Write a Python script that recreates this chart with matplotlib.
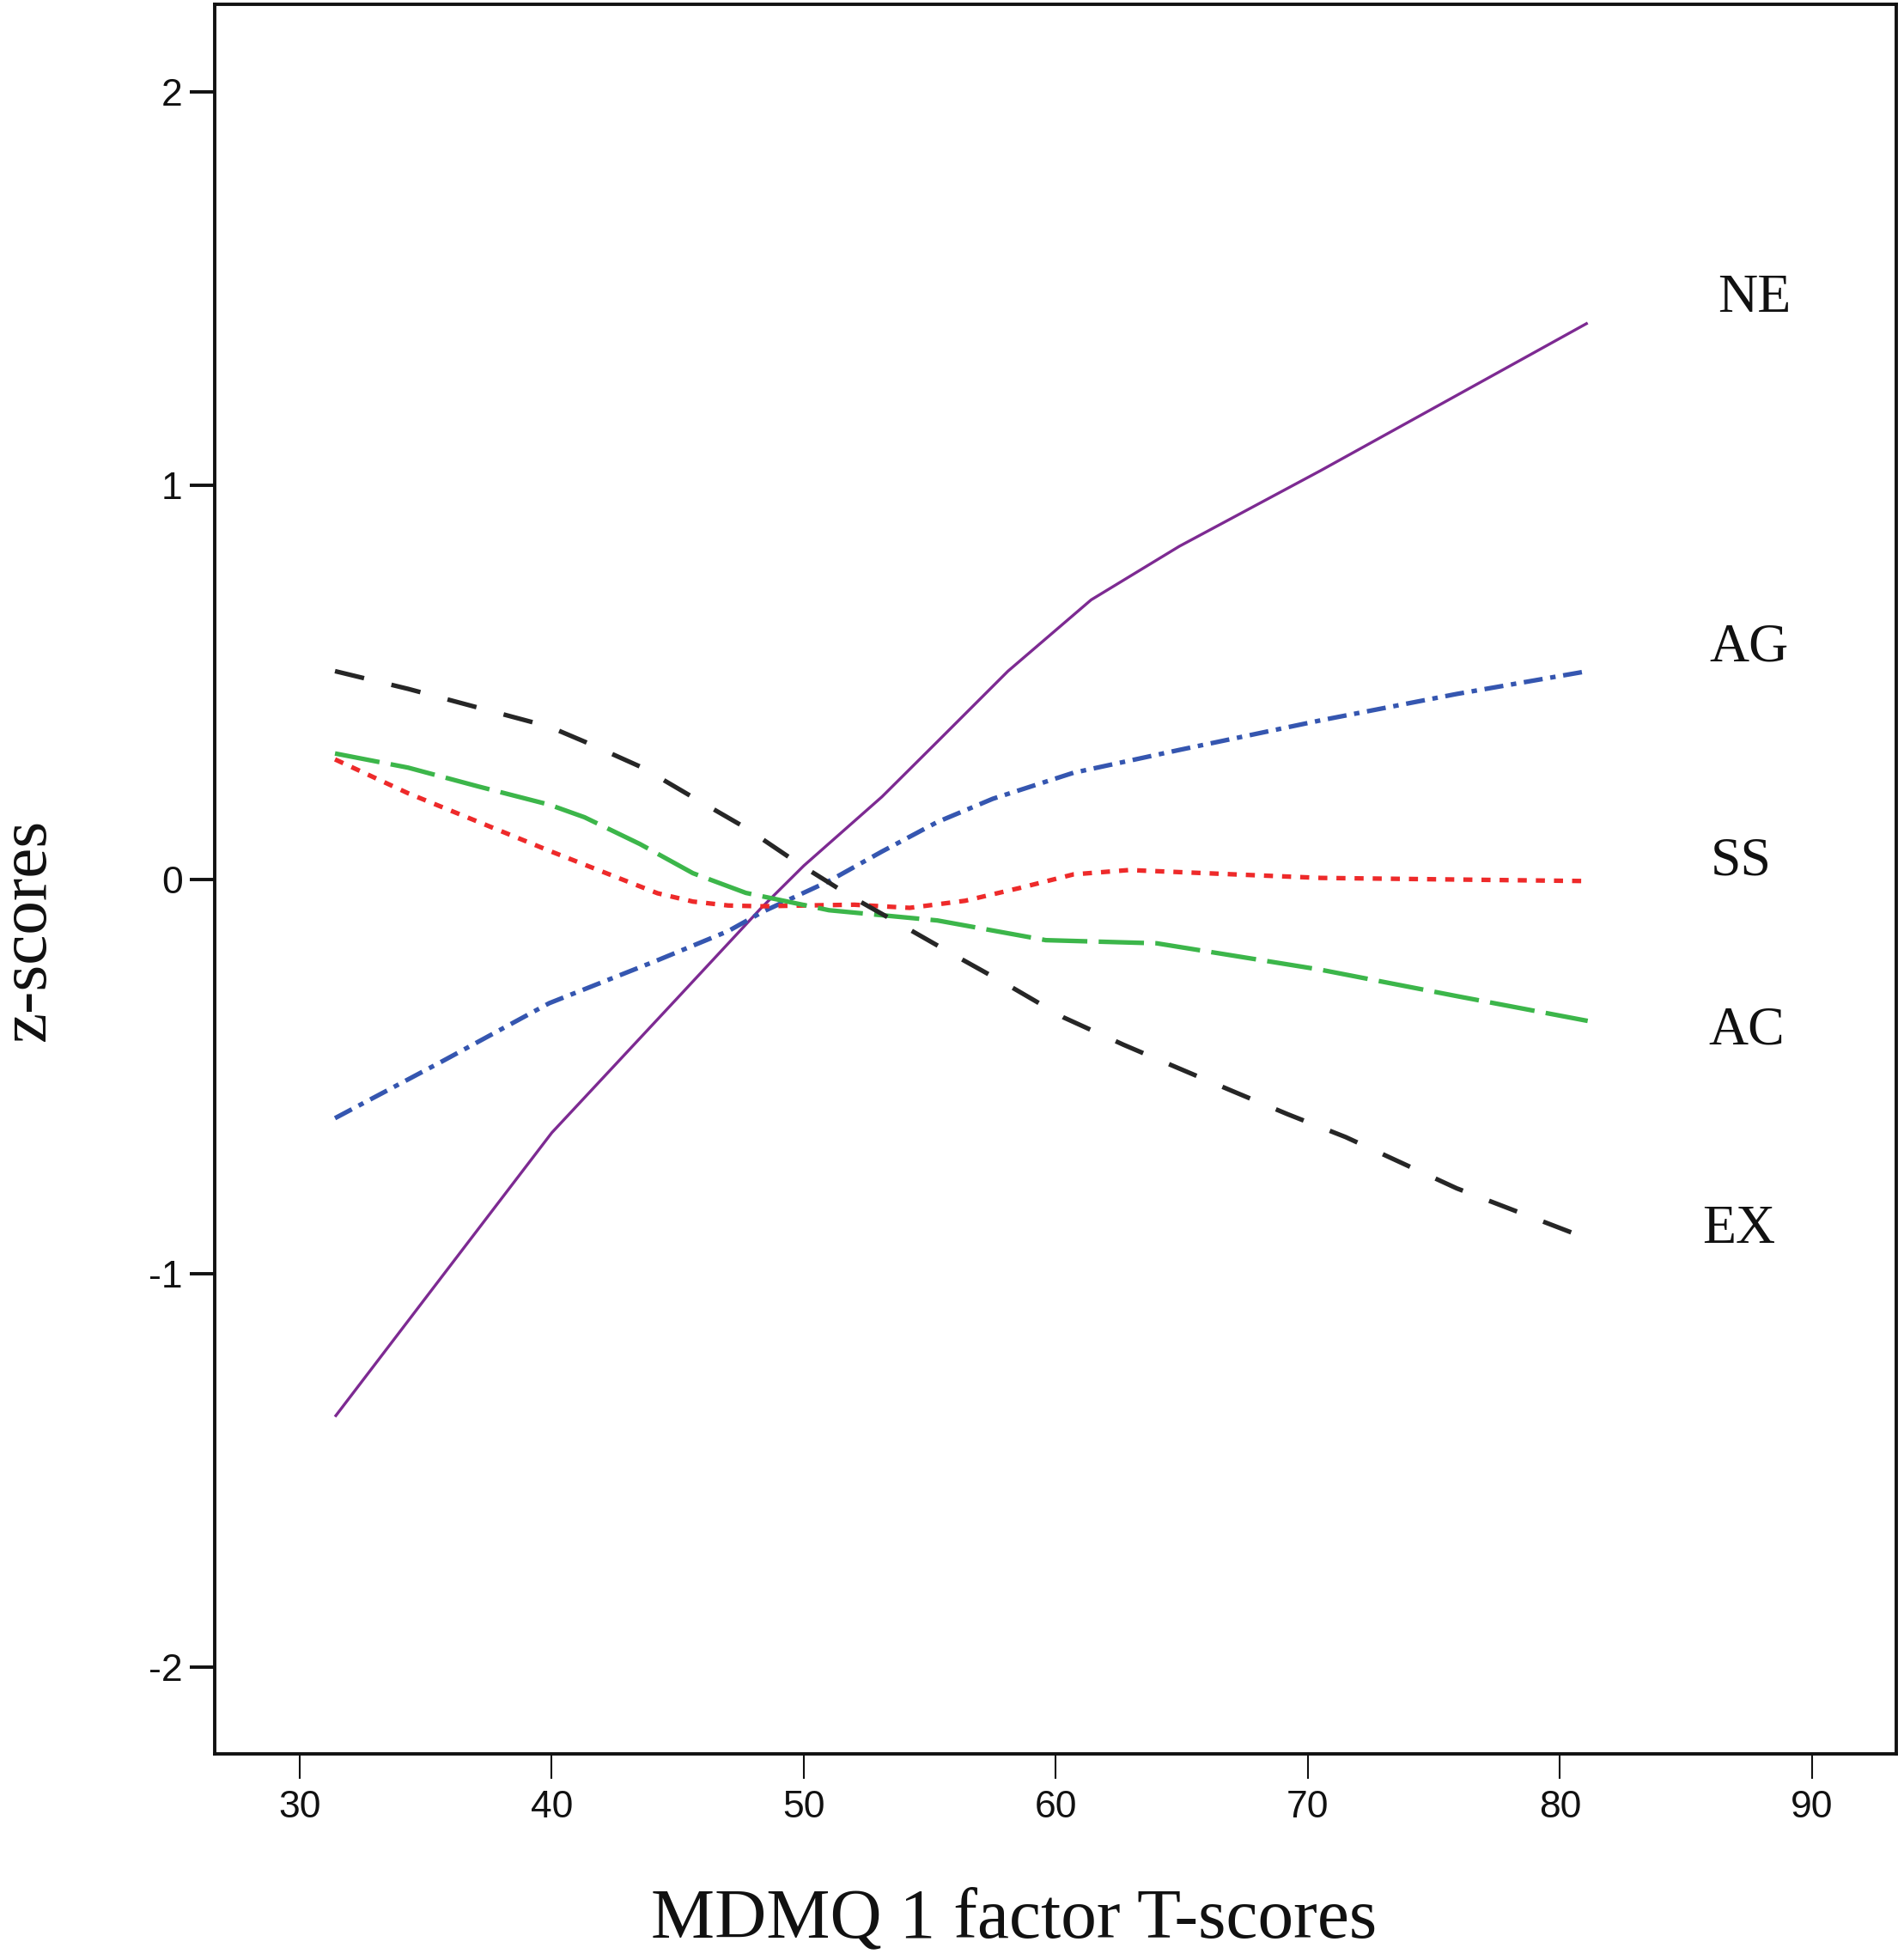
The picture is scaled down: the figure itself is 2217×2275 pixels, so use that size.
import matplotlib
matplotlib.use("Agg")
import matplotlib.pyplot as plt

plt.rcParams['axes.unicode_minus'] = False

# values
ne_x = [31.4, 35, 40, 45, 48.3, 50, 53.1, 55.3, 58.1, 61.4, 64.9, 70.5, 75.9, 81.1]
ne_y = [-1.364, -1.062, -0.643, -0.30, -0.073, 0.035, 0.21, 0.35, 0.529, 0.71, 0.846, 1.038, 1.229, 1.413]

ag_x = [31.4, 35.7, 39.9, 44.2, 47.0, 48.4, 51.0, 53.1, 55.3, 57.5, 60.7, 64.9, 70.5, 75.9, 81.1]
ag_y = [-0.606, -0.46, -0.314, -0.205, -0.131, -0.081, -0.004, 0.071, 0.146, 0.205, 0.271, 0.329, 0.404, 0.471, 0.529]

ss_x = [31.4, 34.3, 37.1, 39.9, 42.8, 44.2, 45.6, 47.0, 48.3, 50.0, 52.0, 54.2, 56.4, 58.6, 60.7, 62.9, 70.5, 81.1]
ss_y = [0.305, 0.219, 0.146, 0.073, 0.0, -0.035, -0.056, -0.066, -0.068, -0.066, -0.064, -0.072, -0.054, -0.021, 0.013, 0.024, 0.004, -0.004]

ac_x = [31.4, 34.3, 37.1, 39.9, 41.3, 43.5, 45.6, 47.7, 51.0, 55.3, 59.6, 64.0, 67.3, 70.5, 75.9, 81.1]
ac_y = [0.32, 0.284, 0.236, 0.19, 0.158, 0.09, 0.016, -0.034, -0.078, -0.104, -0.154, -0.162, -0.196, -0.229, -0.296, -0.359]

ex_x = [31.4, 34.3, 37.1, 39.9, 41.3, 43.6, 45.7, 47.7, 49.8, 51.9, 54.0, 56.0, 58.1, 60.3, 62.7,
        64.9, 67.0, 69.2, 71.5, 75.9, 81.1]
ex_y = [0.529, 0.484, 0.436, 0.388, 0.35, 0.284, 0.205, 0.131, 0.04, -0.044, -0.12, -0.193, -0.268,
        -0.35, -0.42, -0.48, -0.537, -0.596, -0.654, -0.784, -0.912]

labels = ['NE', 'AG', 'SS', 'AC', 'EX']
label_x = [87.7, 87.5, 87.2, 87.4, 87.1]
label_y = [1.475, 0.588, 0.044, -0.386, -0.889]

x_ticks = [30, 40, 50, 60, 70, 80, 90]
y_ticks = [-2, -1, 0, 1, 2]

fig = plt.figure(figsize=(22.17, 22.75), dpi=100)
ax = fig.add_axes([0.1128, 0.1024, 0.9959 - 0.1128, 0.9978 - 0.1024])

ax.plot(ne_x, ne_y, color='#7d2a92', lw=2.4, solid_capstyle='butt')
ax.plot(ag_x, ag_y, color='#3556b0', lw=3.8, linestyle=(0, (4.2, 1.7, 1.2, 1.7)), dash_capstyle='butt')
ax.plot(ss_x, ss_y, color='#ee2a2a', lw=3.8, linestyle=(0, (2.0, 2.0)), dash_capstyle='butt')
ax.plot(ac_x, ac_y, color='#3cb64a', lw=3.8, linestyle=(0, (10.0, 2.5)), dash_capstyle='butt')
ax.plot(ex_x, ex_y, color='#262626', lw=3.8, linestyle=(0, (6.6, 6.2)), dash_capstyle='butt')

serif = ['Liberation Serif', 'DejaVu Serif']
narrow = ['Liberation Sans Narrow', 'Liberation Sans', 'DejaVu Sans']

for lab, lx, ly in zip(labels, label_x, label_y):
    ax.text(lx, ly, lab, family=serif, fontsize=46, ha='center', va='center', color='#111111')

ax.set_xlim(26.63, 93.34)
ax.set_ylim(-2.22, 2.222)
ax.set_xticks(x_ticks)
ax.set_yticks(y_ticks)

for s in ax.spines.values():
    s.set_linewidth(2.8)
    s.set_color('#111111')

ax.tick_params(axis='y', direction='out', length=21, width=2.8, pad=6, labelsize=32, colors='#111111')
ax.tick_params(axis='x', direction='out', length=21, width=1.5, pad=9, labelsize=32, colors='#111111')
for t in ax.get_xticklabels() + ax.get_yticklabels():
    t.set_family(narrow)

fig.text(1181 / 2217, 1 - 2255 / 2275, 'MDMQ 1 factor T-scores', family=serif, fontsize=60,
         ha='center', va='baseline', color='#111111')
fig.text(33 / 2217, 1 - 1082 / 2275, 'z-scores', family=serif, fontsize=57, rotation=90,
         ha='center', va='center', color='#111111')

fig.savefig('out.png', dpi=100)
